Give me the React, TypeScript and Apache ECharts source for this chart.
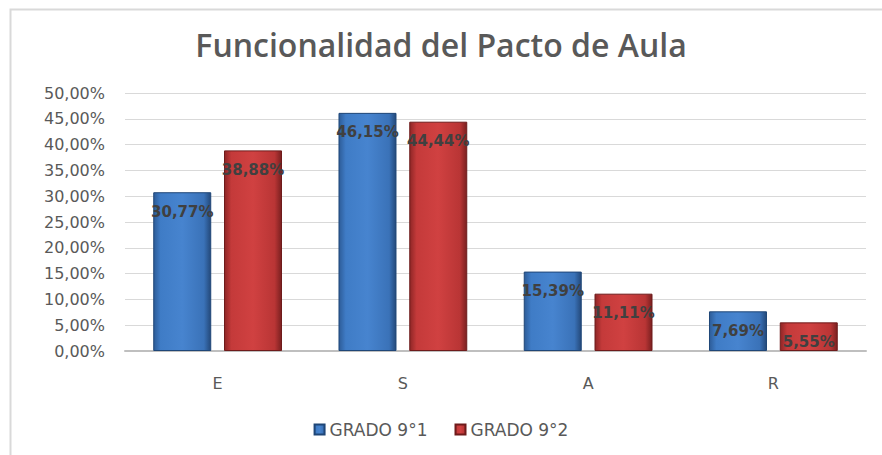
import React, { useEffect, useRef } from "react";
import * as echarts from "echarts";

const categories = ["E", "S", "A", "R"];
const grado1 = [30.77, 46.15, 15.39, 7.69];
const grado2 = [38.88, 44.44, 11.11, 5.55];
const seriesNames = ["GRADO 9°1", "GRADO 9°2"];

const fmt = (v: number) => v.toFixed(2).replace(".", ",") + "%";

export default function App() {
  const ref = useRef<HTMLDivElement>(null);
  useEffect(() => {
    if (!ref.current) return;
    const chart = echarts.init(ref.current, null, { renderer: "svg" });
    const blue = new echarts.graphic.LinearGradient(0, 0, 1, 0, [
      { offset: 0, color: "#2d5c98" },
      { offset: 0.12, color: "#3f7cc6" },
      { offset: 0.5, color: "#4784cf" },
      { offset: 0.88, color: "#3a72b8" },
      { offset: 1, color: "#24497a" },
    ]);
    const red = new echarts.graphic.LinearGradient(0, 0, 1, 0, [
      { offset: 0, color: "#8e2626" },
      { offset: 0.12, color: "#c43a3a" },
      { offset: 0.5, color: "#d04141" },
      { offset: 0.88, color: "#b93535" },
      { offset: 1, color: "#7a2020" },
    ]);
    const label = {
      show: true,
      position: "insideTop" as const,
      distance: 12,
      fontFamily: "DejaVu Sans",
      fontSize: 15,
      fontWeight: "bold" as const,
      color: "#404040",
      formatter: (p: any) => fmt(p.value),
    };
    chart.setOption({
      animation: false,
      backgroundColor: "#ffffff",
      title: {
        text: "Funcionalidad del Pacto de Aula",
        left: "center",
        top: 23,
        textStyle: {
          fontFamily: "Open Sans",
          fontSize: 32,
          fontWeight: 600,
          color: "#595959",
        },
      },
      graphic: [
        {
          type: "rect",
          shape: { x: 10.5, y: 9.5, width: 900, height: 500 },
          style: { fill: "none", stroke: "#d9d9d9", lineWidth: 2 },
          silent: true,
        },
      ],
      legend: {
        data: seriesNames,
        bottom: 12,
        left: "center",
        icon: "rect",
        itemWidth: 10,
        itemHeight: 10,
        itemGap: 27,
        textStyle: { fontFamily: "DejaVu Sans", fontSize: 17, color: "#595959" },
      },
      grid: { left: 125, right: 16, top: 93, bottom: 104 },
      xAxis: {
        type: "category",
        data: categories,
        axisLine: { lineStyle: { color: "#bfbfbf", width: 2 } },
        axisTick: { show: false },
        axisLabel: {
          fontFamily: "DejaVu Sans",
          fontSize: 16,
          color: "#595959",
          margin: 24,
        },
      },
      yAxis: {
        type: "value",
        min: 0,
        max: 50,
        interval: 5,
        axisLine: { show: false },
        axisTick: { show: false },
        splitLine: { lineStyle: { color: "#d9d9d9", width: 1 } },
        axisLabel: {
          fontFamily: "DejaVu Sans",
          fontSize: 16,
          color: "#595959",
          margin: 20,
          formatter: (v: number) => fmt(v),
        },
      },
      series: [
        {
          name: seriesNames[0],
          type: "bar",
          data: grado1,
          barWidth: 58,
          barGap: "22%",
          itemStyle: { color: blue, borderColor: "#1f4677", borderWidth: 1 },
          label,
        },
        {
          name: seriesNames[1],
          type: "bar",
          data: grado2,
          barWidth: 58,
          itemStyle: { color: red, borderColor: "#6e1b1b", borderWidth: 1 },
          label,
        },
      ],
    });
    return () => chart.dispose();
  }, []);
  return (
    <div
      ref={ref}
      style={{ position: "absolute", left: 0, top: 0, width: 882, height: 455 }}
    />
  );
}
